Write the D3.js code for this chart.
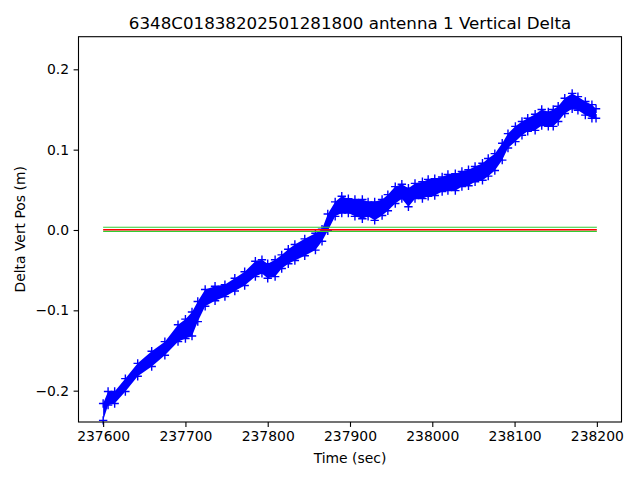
<!DOCTYPE html>
<head>
  <meta charset="utf-8">
  <title>Vertical Delta</title>
  <script src="https://d3js.org/d3.v7.min.js"></script>
  <style>
  body {margin: 0; background: white;}
  #plot text {font-family: "DejaVu Sans", sans-serif; fill: black;}
  .axis path, .axis line {stroke: black; stroke-width: 1.1px;}
  </style>
</head>
<body>
  <svg id="plot" width="640" height="480"></svg>
  <script>
  // time stamps (sec) where the blue band was read
  var times = [237600, 237606, 237614, 237627, 237642, 237659, 237675, 237691, 237700, 237708,
    237715, 237724, 237736, 237748, 237760, 237772, 237785, 237793, 237800, 237809,
    237817, 237825, 237833, 237845, 237858, 237866, 237873, 237882, 237890, 237898,
    237906, 237915, 237922, 237930, 237939, 237946, 237955, 237963, 237971, 237979,
    237988, 237995, 238003, 238012, 238019, 238028, 238036, 238044, 238052, 238061,
    238068, 238076, 238085, 238092, 238101, 238109, 238116, 238125, 238133, 238141,
    238147, 238153, 238161, 238170, 238177, 238186, 238194, 238199];
  // upper and lower edge of the scattered delta values (m)
  var upper = [-0.216, -0.201, -0.201, -0.185, -0.166, -0.151, -0.139, -0.118, -0.111, -0.102,
    -0.089, -0.074, -0.070, -0.068, -0.060, -0.052, -0.039, -0.037, -0.042, -0.037,
    -0.031, -0.024, -0.018, -0.011, -0.004, 0.001, 0.020, 0.035, 0.042, 0.039,
    0.038, 0.038, 0.035, 0.035, 0.038, 0.044, 0.054, 0.057, 0.052, 0.058,
    0.060, 0.063, 0.064, 0.066, 0.069, 0.070, 0.073, 0.075, 0.079, 0.083,
    0.089, 0.095, 0.108, 0.120, 0.129, 0.135, 0.139, 0.144, 0.150, 0.147,
    0.150, 0.154, 0.164, 0.170, 0.166, 0.160, 0.156, 0.151];
  var lower = [-0.237, -0.218, -0.216, -0.201, -0.182, -0.170, -0.156, -0.139, -0.135, -0.132,
    -0.114, -0.095, -0.088, -0.083, -0.076, -0.069, -0.058, -0.054, -0.060, -0.058,
    -0.048, -0.042, -0.038, -0.032, -0.025, -0.014, -0.001, 0.017, 0.021, 0.021,
    0.017, 0.014, 0.017, 0.012, 0.018, 0.024, 0.033, 0.039, 0.029, 0.039,
    0.039, 0.042, 0.043, 0.048, 0.049, 0.049, 0.054, 0.055, 0.060, 0.062,
    0.067, 0.074, 0.087, 0.102, 0.110, 0.118, 0.123, 0.124, 0.130, 0.129,
    0.129, 0.135, 0.145, 0.151, 0.149, 0.143, 0.139, 0.139];

  var meanLevel = 0.0004;          // red line
  var limitLevels = [0.0034, -0.0016]; // green lines
  var lineSpan = [237600, 238200];

  var xTicks = [237600, 237700, 237800, 237900, 238000, 238100, 238200];
  var yTicks = [-0.2, -0.1, 0.0, 0.1, 0.2];

  var svg = d3.select("#plot");
  var padL = 78.5, padR = 621.5, padT = 36.7, padB = 422;

  var x = d3.scaleLinear().domain([237570.05, 238229.95]).range([padL, padR]);
  var y = d3.scaleLinear().domain([-0.239, 0.2406]).range([padB, padT]);

  var rows = times.map(function(t, i) { return {t: t, hi: upper[i], lo: lower[i]}; });

  var g = svg.append("g");

  // dense band of markers
  var area = d3.area()
    .x(function(d) { return x(d.t); })
    .y0(function(d) { return y(d.lo); })
    .y1(function(d) { return y(d.hi); });
  g.append("path").datum(rows)
    .attr("d", area)
    .attr("fill", "blue");

  var cross = "M-4.2,0H4.2M0,-4.2V4.2";
  var pts = [];
  rows.forEach(function(d) { pts.push({t: d.t, v: d.hi}); pts.push({t: d.t, v: d.lo}); });
  g.selectAll("path.pt").data(pts)
    .enter().append("path").attr("class", "pt")
    .attr("d", cross)
    .attr("transform", function(d) { return "translate(" + x(d.t) + "," + y(d.v) + ")"; })
    .attr("stroke", "blue")
    .attr("stroke-width", 1.4)
    .attr("fill", "none");

  // reference lines
  limitLevels.forEach(function(v) {
    g.append("line")
      .attr("x1", x(lineSpan[0])).attr("x2", x(lineSpan[1]))
      .attr("y1", y(v)).attr("y2", y(v))
      .attr("stroke", "#32cd32").attr("stroke-width", 1.2);
  });
  g.append("line")
    .attr("x1", x(lineSpan[0])).attr("x2", x(lineSpan[1]))
    .attr("y1", y(meanLevel)).attr("y2", y(meanLevel))
    .attr("stroke", "red").attr("stroke-width", 1.5);

  // frame
  svg.append("rect")
    .attr("x", padL).attr("y", padT)
    .attr("width", padR - padL).attr("height", padB - padT)
    .attr("fill", "none").attr("stroke", "black").attr("stroke-width", 1.1);

  // axes
  var fmtY = function(d) { return d3.format(".1f")(d).replace("-", "\u2212"); };
  var xAxis = svg.append("g").attr("class", "axis")
    .attr("transform", "translate(0," + padB + ")")
    .call(d3.axisBottom(x).tickValues(xTicks).tickSize(4.9).tickPadding(4.5).tickFormat(d3.format("d")));
  var yAxis = svg.append("g").attr("class", "axis")
    .attr("transform", "translate(" + padL + ",0)")
    .call(d3.axisLeft(y).tickValues(yTicks).tickSize(4.9).tickPadding(4.5).tickFormat(fmtY));
  xAxis.select(".domain").remove();
  yAxis.select(".domain").remove();
  svg.selectAll(".axis text").style("font-size", "13.9px");

  // labels
  svg.append("text")
    .attr("x", (padL + padR) / 2).attr("y", 28.5)
    .attr("text-anchor", "middle")
    .style("font-size", "16.7px")
    .text("6348C01838202501281800 antenna 1 Vertical Delta");

  svg.append("text")
    .attr("x", (padL + padR) / 2).attr("y", 463)
    .attr("text-anchor", "middle")
    .style("font-size", "13.9px")
    .text("Time (sec)");

  svg.append("text")
    .attr("transform", "translate(25," + (padT + padB) / 2 + ") rotate(-90)")
    .attr("text-anchor", "middle")
    .style("font-size", "13.9px")
    .text("Delta Vert Pos (m)");
  </script>
</body>
